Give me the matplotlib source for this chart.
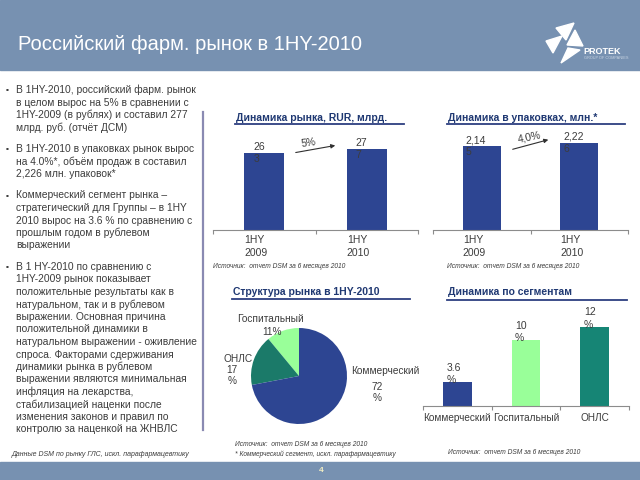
import matplotlib
matplotlib.use('Agg')
import matplotlib.pyplot as plt
from matplotlib.patches import Rectangle, Polygon, FancyArrowPatch
from matplotlib.lines import Line2D

plt.rcParams['font.family'] = ['Liberation Sans', 'DejaVu Sans']

# data
periods = ['1HY\n2009', '1HY\n2010']
market_rub = [263, 277]
market_packs = [2145, 2226]
rub_growth = '5%'
packs_growth = '4,0%'
share_labels = ['Госпитальный', 'ОНЛС', 'Коммерческий']
share_values = [11, 17, 72]
segments = ['Коммерческий', 'Госпитальный', 'ОНЛС']
segment_growth = [3.6, 10, 12]

bullets = [
    ['В 1HY-2010, российский фарм. рынок',
     'в целом вырос на 5% в сравнении с',
     '1HY-2009 (в рублях) и составил 277',
     'млрд. руб. (отчёт ДСМ)'],
    ['В 1HY-2010 в упаковках рынок вырос',
     'на 4.0%*, объём продаж в составил',
     '2,226 млн. упаковок*'],
    ['Коммерческий сегмент рынка –',
     'стратегический для Группы – в 1HY',
     '2010 вырос на 3.6 % по сравнению с',
     'прошлым годом в рублевом',
     'выражении'],
    ['В 1 HY-2010 по сравнению с',
     '1HY-2009 рынок показывает',
     'положительные результаты как в',
     'натуральном, так и в рублевом',
     'выражении. Основная причина',
     'положительной динамики в',
     'натуральном выражении - оживление',
     'спроса. Факторами сдерживания',
     'динамики рынка в рублевом',
     'выражении являются минимальная',
     'инфляция на лекарства,',
     'стабилизацией наценки после',
     'изменения законов и правил по',
     'контролю за наценкой на ЖНВЛС'],
]

NAVY = '#2d4592'
TEAL = '#168575'
PIE_TEAL = '#1b7a69'
LGREEN = '#99ff99'
BAND = '#7791b1'
TXT = '#3c3c3c'
TITLE = '#1f3872'
SRC = 'Источник:  отчет DSM за 6 месяцев 2010'

W, H = 640, 480
fig = plt.figure(figsize=(6.4, 4.8), dpi=100)


def fx(x):
    return x / W


def fy(y):
    return 1 - y / H


def add_ax(x0, y0, x1, y1):
    return fig.add_axes([x0 / W, 1 - y1 / H, (x1 - x0) / W, (y1 - y0) / H])


def hline(x0, x1, y, color, lw):
    fig.add_artist(Line2D([fx(x0), fx(x1)], [fy(y), fy(y)], color=color, lw=lw))


# header / footer bands
fig.add_artist(Rectangle((0, fy(70)), 1, 70 / H, transform=fig.transFigure,
                         color=BAND, zorder=0))
fig.add_artist(Rectangle((0, 0), 1, 18 / H, transform=fig.transFigure,
                         color=BAND, zorder=0))
fig.text(fx(18), fy(45), 'Российский фарм. рынок в 1HY-2010', color='white',
         size=14.5, va='center')
fig.text(fx(321), fy(471), '4', color='#f4efc4', size=6, weight='bold',
         ha='center', va='center')

# logo
for tri in [[(556, 28), (574, 23), (566, 40)],
            [(575, 30), (583, 46), (567, 45)],
            [(568, 48), (580, 50), (561, 63)],
            [(546, 41), (562, 36), (553, 53)]]:
    fig.add_artist(Polygon([(fx(a), fy(b)) for a, b in tri], closed=True,
                           transform=fig.transFigure, color='white'))
fig.text(fx(583), fy(51), 'PROTEK', color='white', size=6.5, weight='bold',
         va='center')
fig.text(fx(584), fy(58), 'GROUP OF COMPANIES', color='#c8d4e2', size=2.8,
         va='center')

# left text
y = 90
for lines in bullets:
    fig.text(fx(6), fy(y), '▪', size=6, color=TXT, va='center')
    for ln in lines:
        fig.text(fx(16), fy(y), ln, size=7.4, color=TXT, va='center')
        y += 12.5
    y += 9
fig.text(fx(12), fy(455), 'Данные DSM по рынку ГЛС, искл. парафармацевтику',
         size=5, style='italic', color=TXT, va='center')

# separator
fig.add_artist(Line2D([fx(203), fx(203)], [fy(112), fy(430)], color='#8a8ab2', lw=1.6))


def bar_panel(box, values, top, width, colors):
    ax = add_ax(*box)
    xs = range(len(values))
    ax.bar(xs, values, width=width, color=colors)
    ax.set_xlim(-0.5, len(values) - 0.5)
    ax.set_ylim(0, top)
    for s in ['top', 'right', 'left']:
        ax.spines[s].set_visible(False)
    ax.spines['bottom'].set_color('#8c8c8c')
    ax.set_xticks([i - 0.5 for i in range(len(values) + 1)])
    ax.set_xticklabels([])
    ax.tick_params(axis='x', length=3, color='#8c8c8c')
    ax.set_yticks([])
    ax.patch.set_alpha(0)
    return ax


def split_label(v):
    s = f'{v:,}'
    return s[:-1] + '\n' + s[-1]


# chart 1 & 2: market dynamics
panels = [
    ((213, 130, 418, 230), market_rub, 340, 'Динамика рынка, RUR, млрд.', (235, 404), 6.5, 213),
    ((433, 130, 628, 230), market_packs, 2554, 'Динамика в упаковках, млн.*', (447, 625), 2.2, 447),
]
for box, vals, top, title, (u0, u1), dx, sx in panels:
    w = 0.39
    ax = bar_panel(box, vals, top, w, NAVY)
    for i, v in enumerate(vals):
        ax.annotate(split_label(v), (i - w / 2, v), xytext=(dx, 0),
                    textcoords='offset points', ha='left', va='center',
                    size=7.5, color=TXT, linespacing=1.25)
        ax.text(i - w / 2, -0.05, periods[i], transform=ax.get_xaxis_transform(),
                ha='left', va='top', size=7.5, color=TXT, linespacing=1.4)
    fig.text(fx(u0 + 1), fy(118), title, size=7.5, weight='bold', color=TITLE,
             va='center')
    hline(u0, u1, 124, '#2d3f80', 1.3)
    fig.text(fx(sx), fy(267), SRC, size=4.8, style='italic', color=TXT, va='center')

fig.add_artist(FancyArrowPatch((fx(293), fy(153)), (fx(338), fy(145)),
                               transform=fig.transFigure, arrowstyle='-|>',
                               mutation_scale=6, color='#303030', lw=0.8))
fig.text(fx(309), fy(143), rub_growth, size=7.5, color=TXT, ha='center',
         va='center', rotation=8)
fig.add_artist(FancyArrowPatch((fx(510), fy(150)), (fx(551), fy(139)),
                               transform=fig.transFigure, arrowstyle='-|>',
                               mutation_scale=6, color='#303030', lw=0.8))
fig.text(fx(529), fy(137), packs_growth, size=7.5, color=TXT, ha='center',
         va='center', rotation=12)

# chart 3: pie
fig.text(fx(233), fy(292), 'Структура рынка в 1HY-2010', size=7.5, weight='bold',
         color=TITLE, va='center')
hline(232, 410, 299, '#2d3f80', 1.3)
pax = add_ax(251, 328, 347, 424)
pax.pie(share_values, colors=[LGREEN, PIE_TEAL, NAVY], startangle=90,
        counterclock=True, radius=1.0)
pax.set_xlim(-1, 1)
pax.set_ylim(-1, 1)
fig.text(fx(270), fy(319), share_labels[0], size=7.3, color=TXT, ha='center', va='center')
fig.text(fx(272), fy(332), f'{share_values[0]}%', size=7.3, color=TXT, ha='center', va='center')
fig.text(fx(224), fy(359), share_labels[1], size=7.3, color=TXT, ha='left', va='center')
fig.text(fx(232), fy(370), f'{share_values[1]}', size=7.3, color=TXT, ha='center', va='center')
fig.text(fx(232), fy(381), '%', size=7.3, color=TXT, ha='center', va='center')
fig.text(fx(351), fy(371), share_labels[2], size=7.3, color=TXT, ha='left', va='center')
fig.text(fx(377), fy(387), f'{share_values[2]}', size=7.3, color=TXT, ha='center', va='center')
fig.text(fx(377), fy(398), '%', size=7.3, color=TXT, ha='center', va='center')
fig.text(fx(235), fy(444), SRC, size=4.8, style='italic', color=TXT, va='center')
fig.text(fx(235), fy(454), '* Коммерческий сегмент, искл. парафармацевтику',
         size=4.8, style='italic', color=TXT, va='center')

# chart 4: segments
fig.text(fx(448), fy(292), 'Динамика по сегментам', size=7.5, weight='bold',
         color=TITLE, va='center')
hline(447, 627, 300, '#2d3f80', 1.3)
sw = 0.42
sax = bar_panel((423, 306, 629, 406), segment_growth, 15.2, sw, [NAVY, LGREEN, TEAL])
for i, v in enumerate(segment_growth):
    sax.annotate(f'{v:g}\n%', (i - sw / 2, v), xytext=(2.5, -2),
                 textcoords='offset points', ha='left', va='bottom',
                 size=7.5, color=TXT, linespacing=1.3)
    sax.text(i, -0.07, segments[i], transform=sax.get_xaxis_transform(),
             ha='center', va='top', size=7.2, color=TXT)
fig.text(fx(448), fy(453), SRC, size=4.8, style='italic', color=TXT, va='center')

fig.savefig('out.png', dpi=100)
